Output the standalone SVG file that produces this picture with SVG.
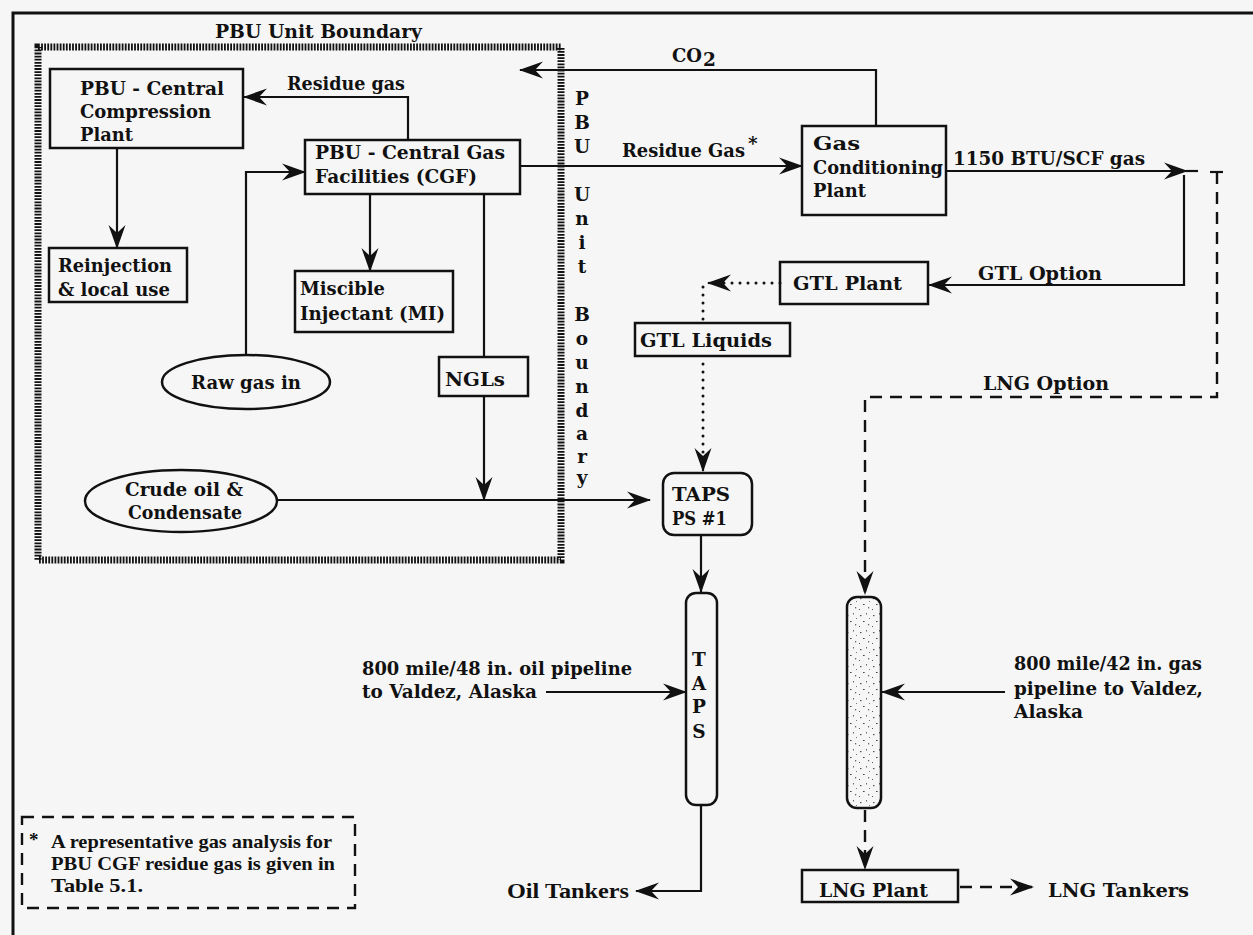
<svg xmlns="http://www.w3.org/2000/svg" width="1253" height="935" viewBox="0 0 1253 935">
<style>
.t{font-family:"DejaVu Serif","Liberation Serif",serif;font-weight:bold;font-size:18.5px;fill:#111}
.tt{font-family:"Liberation Serif","Times New Roman",serif;font-weight:bold;font-size:20px;fill:#111}
.fn{font-family:"Liberation Serif","Times New Roman",serif;font-weight:bold;font-size:19px;fill:#111}
.box{fill:none;stroke:#111;stroke-width:2.5}
.ln{fill:none;stroke:#111;stroke-width:2.2}
.dash{fill:none;stroke:#111;stroke-width:2.4;stroke-dasharray:12 8}
.dot{fill:none;stroke:#111;stroke-width:3;stroke-linecap:round;stroke-dasharray:0 8}
.hatch{fill:none;stroke:#111;stroke-width:7;stroke-dasharray:1.8 1.3}
</style>
<defs>
<marker id="ah" markerUnits="userSpaceOnUse" markerWidth="24" markerHeight="18" refX="23" refY="9" orient="auto" viewBox="0 0 24 18">
<path d="M24,9 L0,0.5 L8,9 L0,17.5 Z" fill="#111"/>
</marker>
<pattern id="speck" patternUnits="userSpaceOnUse" width="13" height="17">
<rect x="2" y="3" width="1.5" height="1.2" fill="#555"/>
<rect x="8" y="1" width="1" height="1.5" fill="#666"/>
<rect x="5" y="9" width="1.6" height="1" fill="#444"/>
<rect x="10" y="12" width="1.2" height="1.4" fill="#666"/>
<rect x="1" y="14" width="1" height="1" fill="#555"/>
<rect x="11" y="6" width="1" height="1" fill="#777"/>
</pattern>
</defs>
<rect x="0" y="0" width="1253" height="935" fill="#f6f6f6"/>
<path d="M13,935 V13 H1253" fill="none" stroke="#111" stroke-width="3"/>

<g id="pbu-boundary">
<rect x="38" y="47" width="523" height="513" class="hatch"/>
<text class="t" x="215" y="38" textLength="207" lengthAdjust="spacingAndGlyphs">PBU Unit Boundary</text>
<text class="t" text-anchor="middle"><tspan x="582" y="105">P</tspan><tspan x="582" y="129">B</tspan><tspan x="582" y="153">U</tspan><tspan x="582" y="201">U</tspan><tspan x="582" y="225">n</tspan><tspan x="582" y="249">i</tspan><tspan x="582" y="273">t</tspan><tspan x="582" y="321">B</tspan><tspan x="582" y="345">o</tspan><tspan x="582" y="369">u</tspan><tspan x="582" y="393">n</tspan><tspan x="582" y="417">d</tspan><tspan x="582" y="440">a</tspan><tspan x="582" y="463">r</tspan><tspan x="582" y="484">y</tspan></text>
</g>

<g id="connectors">
<path class="ln" d="M408,140 V97 H244" marker-end="url(#ah)"/>
<path class="ln" d="M117,148 V248" marker-end="url(#ah)"/>
<path class="ln" d="M246,355 V172 H305" marker-end="url(#ah)"/>
<path class="ln" d="M370,194 V271" marker-end="url(#ah)"/>
<path class="ln" d="M484,194 V357"/>
<path class="ln" d="M484,396 V500" marker-end="url(#ah)"/>
<path class="ln" d="M277,500 H650" marker-end="url(#ah)"/>
<path class="ln" d="M520,166 H802" marker-end="url(#ah)"/>
<path class="ln" d="M876,126 V70 H520" marker-end="url(#ah)"/>
<path class="ln" d="M946,171 H1187" marker-end="url(#ah)"/>
<path class="ln" d="M1186,171 H1198"/>
<path class="ln" d="M1184,175 V285 H929" marker-end="url(#ah)"/>
<path class="dash" d="M1217,172 V397 H865 V594" marker-end="url(#ah)"/>
<path class="ln" d="M1210,172 H1223"/>
<path class="dot" d="M780,283 H718"/>
<path class="ln" d="M718,283 H708" marker-end="url(#ah)"/>
<path class="dot" d="M703,287 V323"/>
<path class="dot" d="M703,364 V456"/>
<path class="ln" d="M703,458 V471" marker-end="url(#ah)"/>
<path class="ln" d="M701,535 V592" marker-end="url(#ah)"/>
<path class="ln" d="M546,692 H686" marker-end="url(#ah)"/>
<path class="ln" d="M1005,692 H882" marker-end="url(#ah)"/>
<path class="ln" d="M701,805 V891 H636" marker-end="url(#ah)"/>
<path class="dash" d="M865,810 V869" stroke-dasharray="10 7" marker-end="url(#ah)"/>
<path class="dash" d="M960,887 H1033" stroke-dasharray="3 8 12 8" marker-end="url(#ah)"/>
<text class="t" x="287" y="90" textLength="118" lengthAdjust="spacingAndGlyphs">Residue gas</text>
<text class="t" x="672" y="62" textLength="30" lengthAdjust="spacingAndGlyphs">CO</text>
<text class="t" x="703" y="66" font-size="11">2</text>
<text class="t" x="748" y="150" font-size="13">*</text>
<text class="t" x="622" y="157" textLength="123" lengthAdjust="spacingAndGlyphs">Residue Gas</text>
<text class="t" x="953" y="165" textLength="192" lengthAdjust="spacingAndGlyphs">1150 BTU/SCF gas</text>
<text class="t" x="978" y="280" textLength="124" lengthAdjust="spacingAndGlyphs">GTL Option</text>
<text class="t" x="983" y="390" textLength="126" lengthAdjust="spacingAndGlyphs">LNG Option</text>
<text class="t" x="362" y="675" textLength="270" lengthAdjust="spacingAndGlyphs">800 mile/48 in. oil  pipeline</text>
<text class="t" x="362" y="698" textLength="175" lengthAdjust="spacingAndGlyphs">to Valdez, Alaska</text>
<text class="t" x="1014" y="670" textLength="188" lengthAdjust="spacingAndGlyphs">800 mile/42 in. gas</text>
<text class="t" x="1014" y="695" textLength="189" lengthAdjust="spacingAndGlyphs">pipeline to Valdez,</text>
<text class="t" x="1014" y="718" textLength="69" lengthAdjust="spacingAndGlyphs">Alaska</text>
</g>

<g id="compression-plant">
<rect x="50" y="69" width="193" height="79" class="box"/>
<text class="t" x="80" y="95" textLength="144" lengthAdjust="spacingAndGlyphs">PBU - Central</text>
<text class="t" x="80" y="118" textLength="131" lengthAdjust="spacingAndGlyphs">Compression</text>
<text class="t" x="80" y="141" textLength="53" lengthAdjust="spacingAndGlyphs">Plant</text>
</g>

<g id="cgf">
<rect x="305" y="140" width="215" height="54" class="box"/>
<text class="t" x="315" y="159" textLength="190" lengthAdjust="spacingAndGlyphs">PBU - Central Gas</text>
<text class="t" x="315" y="183" textLength="162" lengthAdjust="spacingAndGlyphs">Facilities (CGF)</text>
</g>

<g id="reinjection">
<rect x="49" y="248" width="138" height="54" class="box"/>
<text class="t" x="58" y="272" textLength="114" lengthAdjust="spacingAndGlyphs">Reinjection</text>
<text class="t" x="58" y="296" textLength="112" lengthAdjust="spacingAndGlyphs">&amp; local use</text>
</g>

<g id="miscible-injectant">
<rect x="295" y="271" width="158" height="61" class="box"/>
<text class="t" x="300" y="295" textLength="85" lengthAdjust="spacingAndGlyphs">Miscible</text>
<text class="t" x="300" y="320" textLength="145" lengthAdjust="spacingAndGlyphs">Injectant (MI)</text>
</g>

<g id="ngls">
<rect x="439" y="357" width="89" height="39" class="box"/>
<text class="t" x="445" y="386" textLength="60" lengthAdjust="spacingAndGlyphs">NGLs</text>
</g>

<g id="raw-gas">
<ellipse cx="246" cy="382" rx="84" ry="27" class="box"/>
<text class="t" x="191" y="389" textLength="110" lengthAdjust="spacingAndGlyphs">Raw gas in</text>
</g>

<g id="crude-oil">
<ellipse cx="181" cy="501" rx="96" ry="31" class="box"/>
<text class="t" x="125" y="496" textLength="118" lengthAdjust="spacingAndGlyphs">Crude oil &amp;</text>
<text class="t" x="128" y="519" textLength="114" lengthAdjust="spacingAndGlyphs">Condensate</text>
</g>

<g id="gas-conditioning">
<rect x="802" y="126" width="144" height="89" class="box"/>
<text class="t" x="813" y="150" textLength="47" lengthAdjust="spacingAndGlyphs">Gas</text>
<text class="t" x="813" y="174" textLength="130" lengthAdjust="spacingAndGlyphs">Conditioning</text>
<text class="t" x="813" y="197" textLength="53" lengthAdjust="spacingAndGlyphs">Plant</text>
</g>

<g id="gtl-plant">
<rect x="780" y="262" width="148" height="42" class="box"/>
<text class="t" x="793" y="290" textLength="109" lengthAdjust="spacingAndGlyphs">GTL Plant</text>
</g>

<g id="gtl-liquids">
<rect x="635" y="323" width="155" height="33" class="box"/>
<text class="t" x="640" y="347" textLength="132" lengthAdjust="spacingAndGlyphs">GTL Liquids</text>
</g>

<g id="taps-ps1">
<rect x="663" y="473" width="89" height="62" rx="11" class="box"/>
<text class="t" x="672" y="501" textLength="58" lengthAdjust="spacingAndGlyphs">TAPS</text>
<text class="t" x="672" y="525" textLength="55" lengthAdjust="spacingAndGlyphs">PS #1</text>
</g>

<g id="taps">
<rect x="686" y="593" width="31" height="212" rx="10" class="box"/>
<text class="t" text-anchor="middle"><tspan x="699" y="666">T</tspan><tspan x="699" y="690">A</tspan><tspan x="699" y="713">P</tspan><tspan x="699" y="738">S</tspan></text>
</g>

<g id="lng-pipeline">
<rect x="847" y="597" width="34" height="211" rx="10" fill="url(#speck)" stroke="#111" stroke-width="2.5"/>
</g>

<g id="lng-plant">
<rect x="802" y="870" width="156" height="32" class="box"/>
<text class="t" x="819" y="897" font-size="19.5" textLength="109" lengthAdjust="spacingAndGlyphs">LNG Plant</text>
</g>

<g id="lng-tankers">
<text class="t" x="1048" y="897" font-size="19.5" textLength="141" lengthAdjust="spacingAndGlyphs">LNG Tankers</text>
</g>

<g id="oil-tankers">
<text class="tt" x="507" y="898" font-size="21" textLength="122" lengthAdjust="spacingAndGlyphs">Oil Tankers</text>
</g>

<g id="footnote">
<rect x="22" y="817" width="333" height="91" class="dash" stroke-width="2" stroke-dasharray="14 8"/>
<text class="fn" x="29" y="846" font-size="14">*</text>
<text class="fn" x="51" y="848" textLength="281" lengthAdjust="spacingAndGlyphs">A representative gas analysis for</text>
<text class="fn" x="51" y="870" textLength="284" lengthAdjust="spacingAndGlyphs">PBU CGF residue gas is given in</text>
<text class="fn" x="51" y="892" textLength="92" lengthAdjust="spacingAndGlyphs">Table 5.1.</text>
</g>
</svg>
